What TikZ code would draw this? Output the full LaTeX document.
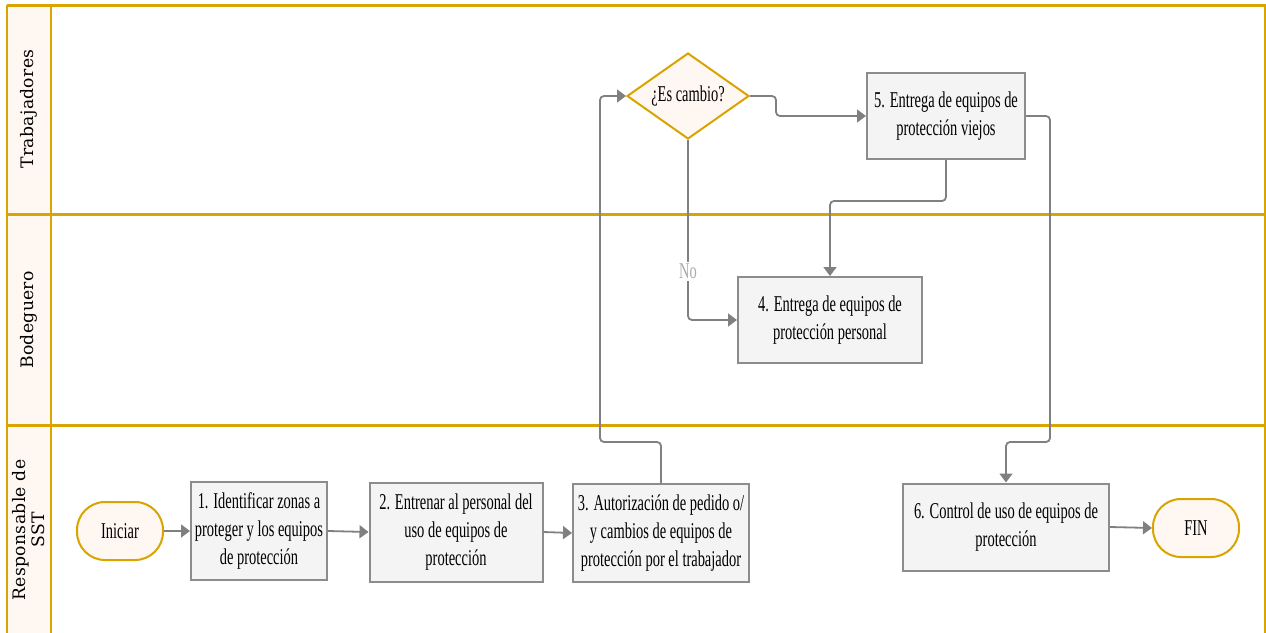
\documentclass[tikz,border=0pt]{standalone}
\usepackage{fontspec}
\setmainfont{Liberation Serif}[FakeStretch=0.64]
\newfontfamily\lanefont{DejaVu Serif}[LetterSpace=2]
\usetikzlibrary{shapes.geometric,arrows.meta}

\definecolor{lanegold}{HTML}{D9A300}
\definecolor{lanefill}{HTML}{FFF8F2}
\definecolor{boxfill}{HTML}{F4F4F4}
\definecolor{boxline}{HTML}{8C8C8C}
\definecolor{flowline}{HTML}{808080}
\definecolor{nolabel}{HTML}{ABABAB}

\begin{document}
\begin{tikzpicture}[x=0.5pt,y=-0.5pt]

\tikzset{
  process box/.style={
    draw=boxline, line width=1pt, fill=boxfill,
    align=center, inner sep=0pt,
    font=\fontsize{11.3}{14.2}\selectfont,
  },
  terminal/.style={
    draw=lanegold, line width=1pt, fill=lanefill,
    rounded corners=14pt, minimum width=43pt, minimum height=29pt,
    font=\fontsize{11.3}{14.2}\selectfont,
  },
  decision/.style={
    diamond, aspect=1.42, draw=lanegold, line width=1pt, fill=lanefill,
    minimum width=61pt, minimum height=43pt, inner sep=0pt,
    font=\fontsize{11.3}{14.2}\selectfont,
  },
  flow/.style={
    draw=flowline, line width=0.9pt, rounded corners=2pt,
    -{Triangle[length=4.5pt,width=6.5pt]},
  },
  lane line/.style={draw=lanegold, line width=1.5pt},
  lane border/.style={draw=lanegold, line width=0.6pt},
  lane label/.style={
    rotate=90, align=center,
    font=\fontsize{8.6}{9.5}\selectfont\lanefont,
  }
}

\useasboundingbox (0,0) rectangle (1266,633);

% Lanes
\fill[lanefill] (7,5) rectangle (51,633);
\draw[lane border] (7,5) -- (7,633);
\draw[lane border] (51,5) -- (51,633);
\draw[lane border] (1265,5) -- (1265,633);
\draw[lane line] (7,5) -- (1266,5);
\draw[lane line] (7,214) -- (1266,214);
\draw[lane line] (7,425) -- (1266,425);

\node[lane label] (lane1) at (29,109) {Trabajadores};
\node[lane label] (lane2) at (29,320) {Bodeguero};
\node[lane label] (lane3) at (29,530) {Responsable de\\SST};

% Responsable de SST
\node[terminal] (start) at (120,531) {Iniciar};
\node[process box, minimum width=68pt, minimum height=49pt] (b1) at (259,531)
  {1. Identificar zonas a\\proteger y los equipos\\de protección};
\node[process box, minimum width=86.5pt, minimum height=49.5pt] (b2) at (456,532)
  {2. Entrenar al personal del\\uso de equipos de\\protección};
\node[process box, minimum width=88pt, minimum height=49pt] (b3) at (661,533)
  {3. Autorización de pedido o/\\y cambios de equipos de\\protección por el trabajador};
\node[process box, minimum width=103pt, minimum height=43.5pt] (b6) at (1006,527)
  {6. Control de uso de equipos de\\protección};
\node[terminal] (fin) at (1196,528) {FIN};

% Trabajadores
\node[decision] (dec) at (688,96) {¿Es cambio?};
\node[process box, minimum width=79pt, minimum height=43pt] (b5) at (946,116)
  {5. Entrega de equipos de\\protección viejos};

% Bodeguero
\node[process box, minimum width=92pt, minimum height=43pt] (b4) at (830,320)
  {4. Entrega de equipos de\\protección personal};

% Bends
\coordinate (c1) at (600,442);
\coordinate (c2) at (830,201);
\coordinate (c3) at (1050,442);

% Edges
\draw[flow] (start.east) -- (b1.west);
\draw[flow] (b1.east) -- (b2.west);
\draw[flow] (b2.east) -- (b3.west);
\draw[flow] (b3.north) |- (c1) |- (dec.west);
\draw[flow] (dec.east) -- ++(26,0) |- (b5.west);
\draw[flow] (dec.south) |- node[pos=0.365, fill=white, inner sep=1pt,
  text=nolabel, font=\fontsize{11.3}{12}\selectfont] (nolbl) {No} (b4.west);
\draw[flow] (b5.south) |- (c2) -- (b4.north);
\draw[flow] (b5.east) -| (c3) -| (b6.north);
\draw[flow] (b6.east) -- (fin.west);

\end{tikzpicture}
\end{document}
